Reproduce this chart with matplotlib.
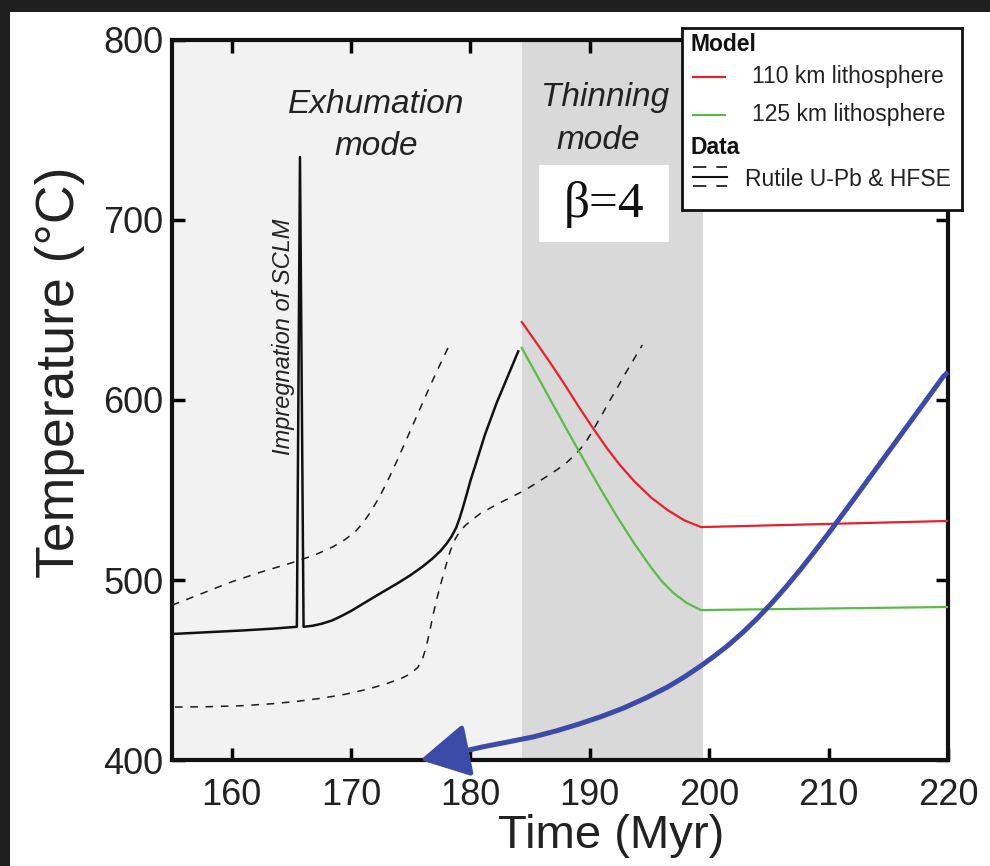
import numpy as np
import matplotlib
matplotlib.use("Agg")
import matplotlib.pyplot as plt
from matplotlib.patches import Rectangle, FancyArrowPatch
from matplotlib.path import Path

plt.rcParams['font.family'] = ['Liberation Sans', 'DejaVu Sans']

# measured thermal history (solid black), with the short impregnation spike
obs_t = [155, 158, 161, 163.5, 165.46, 165.72, 166.02, 166.8, 167.6, 168.4, 169.2,
         170.0, 171.0, 172.0, 173.0, 174.0, 175.0, 176.0, 176.8, 177.5, 178.0,
         178.4, 178.8, 179.1, 179.4, 179.7, 180.0, 180.4, 180.8, 181.2, 181.7,
         182.2, 182.8, 183.4, 184.0]
obs_T = [470, 471, 472, 473, 474, 735, 474, 474.6, 475.8, 477.5, 480.0,
         482.8, 486.8, 490.8, 494.7, 498.6, 502.8, 507.5, 511.8, 516.2, 520.2,
         524.0, 529.0, 534.5, 541.0, 548.0, 555.2, 563.5, 572.0, 580.5, 589.5,
         598.5, 608.0, 617.5, 627.0]

# data envelope (dashed)
upper_t = [155, 157.5, 160, 162.5, 165, 167, 168.5, 169.5, 170.3, 171.0, 171.7,
           172.45, 173.2, 173.9, 174.6, 175.3, 176.0, 176.7, 177.4, 178.15]
upper_T = [486, 492.5, 499, 504.5, 509.5, 514, 518.5, 522.5, 526.5, 531.7, 538.5,
           547, 557, 567, 577.5, 588, 598.5, 609, 619, 629.4]
lower_t = [155.25, 158, 161, 163.5, 165.5, 167.5, 169.5, 171.5, 173.0, 174.2,
           175.0, 175.6, 176.0, 176.3, 176.6, 176.9, 177.2, 177.5, 177.9, 178.3,
           178.7, 179.1, 179.6, 180.2, 180.8, 181.8, 182.8, 183.7, 184.6, 185.5,
           186.5, 187.3, 188.1, 188.9, 189.6, 190.2, 190.9, 191.7, 192.4, 193.0,
           193.7, 194.4]
lower_T = [429.4, 429.6, 430.2, 431.3, 432.6, 434.3, 436.5, 439.5, 442.5, 445.3,
           448.0, 451.5, 456.5, 463.0, 472.0, 481.5, 490.0, 497.5, 507.0, 516.0,
           522.5, 527.0, 530.5, 533.8, 536.8, 540.5, 544.0, 547.0, 550.0, 553.8,
           558.0, 561.5, 565.5, 570.5, 576.0, 582.5, 590.5, 600.0, 608.0, 615.0,
           622.8, 630.6]

# thinning models
m110_t = [184.3, 185.5, 186.7, 187.9, 189.0, 190.2, 191.4, 192.5, 193.7, 195.1,
          196.5, 197.9, 199.3, 220]
m110_T = [643.3, 632.0, 620.5, 608.5, 597.0, 585.0, 573.5, 564.0, 555.0, 546.0,
          538.9, 533.2, 529.4, 532.8]
m125_t = [184.3, 185.5, 186.7, 188.1, 189.5, 190.9, 192.3, 193.7, 195.1, 196.0,
          197.0, 198.1, 199.3, 220]
m125_T = [628.9, 614.5, 600.0, 583.2, 566.7, 550.5, 535.0, 520.5, 507.2, 499.5,
          492.8, 487.3, 483.3, 485.0]

# cooling path arrow (blue), drawn from 220 Myr back towards the tip
path_t = [220, 219.6, 218.4, 217.2, 216.0, 214.8, 213.6, 212.4, 211.2, 210.0,
          208.8, 207.6, 206.4, 205.2, 204.0, 202.8, 201.6, 200.4, 199.3, 198.0,
          196.5, 194.7, 192.8, 190.9, 189.0, 187.2, 185.3, 183.2, 181.1, 179.5,
          175.8]
path_T = [615.5, 613.0, 602.0, 591.1, 580.2, 569.3, 558.4, 547.5, 536.7, 526.0,
          515.6, 505.5, 495.9, 486.9, 478.5, 470.8, 463.8, 457.6, 452.3, 446.5,
          440.5, 434.5, 428.8, 424.0, 419.8, 416.2, 412.9, 410.1, 407.4, 405.0,
          400.0]

fig = plt.figure(figsize=(9.9, 8.66), dpi=100)
fig.patch.set_facecolor('white')
# dark frame strips along the top and left edges
fig.patches.append(Rectangle((0, 1 - 12 / 866), 1, 12 / 866, transform=fig.transFigure,
                             facecolor='#1e1e1e', edgecolor='none', zorder=0))
fig.patches.append(Rectangle((0, 0), 10 / 990, 1, transform=fig.transFigure,
                             facecolor='#1e1e1e', edgecolor='none', zorder=0))

ax = fig.add_axes([172 / 990, 1 - 760 / 866, 776 / 990, 720 / 866])
ax.set_xlim(155, 220)
ax.set_ylim(400, 800)

ax.axvspan(155, 184.3, color='#f2f2f2', zorder=0, lw=0)
ax.axvspan(184.3, 199.5, color='#d9d9d9', zorder=0, lw=0)

ax.plot(upper_t, upper_T, color='#1a1a1a', lw=1.1, ls=(0, (5, 5)), zorder=2)
ax.plot(lower_t, lower_T, color='#1a1a1a', lw=1.1, ls=(0, (5, 5)), zorder=2)
ax.plot(obs_t, obs_T, color='#111111', lw=1.8, zorder=3)
ax.plot(m110_t, m110_T, color='#e8202c', lw=1.6, zorder=3)
ax.plot(m125_t, m125_T, color='#5cba47', lw=1.6, zorder=3)

arrow = FancyArrowPatch(path=Path(np.column_stack([path_t, path_T])),
                        arrowstyle='-|>,head_length=1.0,head_width=0.55',
                        mutation_scale=30, lw=3.6, color='#3c4aa8',
                        shrinkA=0, shrinkB=0, zorder=4, clip_on=False,
                        joinstyle='round', capstyle='butt')
ax.add_patch(arrow)

ax.text(172.1, 764.4, 'Exhumation', style='italic', fontsize=24, color='#222222',
        ha='center', va='center')
ax.text(172.1, 740.6, 'mode', style='italic', fontsize=24, color='#222222',
        ha='center', va='center')
ax.text(191.3, 767.8, 'Thinning', style='italic', fontsize=24, color='#222222',
        ha='center', va='center')
ax.text(190.7, 744.4, 'mode', style='italic', fontsize=24, color='#222222',
        ha='center', va='center')
ax.text(164.3, 635, 'Impregnation of SCLM', style='italic', fontsize=17,
        color='#222222', rotation=90, ha='center', va='center')

ax.add_patch(Rectangle((185.7, 687.8), 10.9, 42.8, facecolor='white',
                       edgecolor='none', zorder=3))
ax.text(191.2, 708.5, 'β=4', family=['Liberation Serif', 'DejaVu Serif'],
        fontsize=37, color='#111111', ha='center', va='center', zorder=4)

ax.set_xticks(np.arange(160, 221, 10))
ax.set_yticks(np.arange(400, 801, 100))
ax.tick_params(direction='in', length=9, width=2.5, top=True, right=True,
               labelsize=26, labelcolor='#222222')
ax.tick_params(axis='x', pad=13)
ax.tick_params(axis='y', pad=6)
for sp in ax.spines.values():
    sp.set_linewidth(3)
    sp.set_color('#111111')

ax.set_xlabel('Time (Myr)', fontsize=34, color='#222222', labelpad=-4)
ax.xaxis.set_label_coords(0.566, -0.075)
ax.set_ylabel('Temperature (°C)', fontsize=38.5, color='#222222')
ax.yaxis.set_label_coords(-0.112, 0.539)

# legend panel
lg = fig.add_axes([682 / 990, 1 - 210 / 866, 280 / 990, 182 / 866])
lg.set_xlim(0, 1)
lg.set_ylim(0, 1)
lg.set_xticks([])
lg.set_yticks([])
for sp in lg.spines.values():
    sp.set_linewidth(2)
    sp.set_color('#111111')
lg.text(0.029, 0.907, 'Model', fontweight='bold', fontsize=16.5, color='#111111',
        va='center', ha='left')
lg.plot([0.039, 0.154], [0.731, 0.731], color='#e8202c', lw=1.6)
lg.text(0.25, 0.731, '110 km lithosphere', fontsize=16.5, color='#222222', va='center')
lg.plot([0.039, 0.154], [0.522, 0.522], color='#5cba47', lw=1.6)
lg.text(0.25, 0.522, '125 km lithosphere', fontsize=16.5, color='#222222', va='center')
lg.text(0.029, 0.341, 'Data', fontweight='bold', fontsize=16.5, color='#111111',
        va='center', ha='left')
lg.plot([0.039, 0.16], [0.236, 0.236], color='#111111', lw=1.2, ls=(0, (8, 6)))
lg.plot([0.039, 0.16], [0.181, 0.181], color='#111111', lw=1.5)
lg.plot([0.039, 0.16], [0.132, 0.132], color='#111111', lw=1.2, ls=(0, (8, 6)))
lg.text(0.225, 0.168, 'Rutile U-Pb & HFSE', fontsize=16.5, color='#222222', va='center')

fig.savefig('out.png', dpi=100)
